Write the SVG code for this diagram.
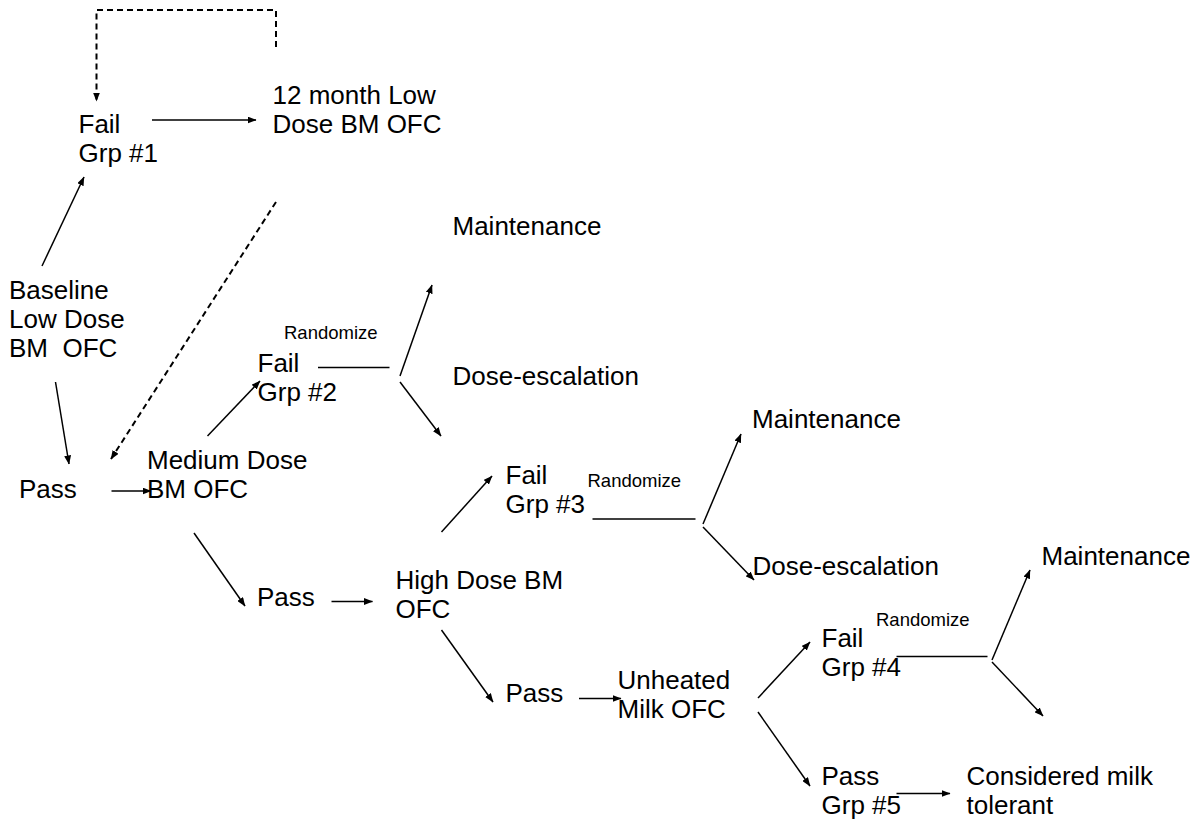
<svg xmlns="http://www.w3.org/2000/svg" width="1199" height="819" viewBox="0 0 1199 819">
<style>
text{font-family:"Liberation Sans",Arial,sans-serif;font-size:26px;fill:#000;white-space:pre}
text.small{font-size:18.5px}
.c{stroke:#000;stroke-width:1.5;fill:none}
.a{marker-end:url(#ah)}
.d{stroke-dasharray:6,4;stroke-width:2}
</style>
<defs>
<marker id="ah" markerWidth="9" markerHeight="7" refX="8.5" refY="3.5" orient="auto" markerUnits="userSpaceOnUse">
<path d="M0,0 L9,3.5 L0,7 z" fill="#000"/>
</marker>
</defs>
<rect width="1199" height="819" fill="#fff"/>
<g id="connectors">
<polyline class="c d a" points="276,47 276,10 96.5,10 96.5,101"/>
<line class="c a" x1="152" y1="120" x2="256" y2="120"/>
<line class="c a" x1="42" y1="266" x2="84" y2="177"/>
<line class="c d a" x1="276" y1="202" x2="111" y2="459"/>
<line class="c a" x1="55.5" y1="382" x2="69" y2="464"/>
<line class="c a" x1="111.5" y1="491" x2="151" y2="491"/>
<line class="c a" x1="207.5" y1="436" x2="260" y2="381"/>
<line class="c" x1="318" y1="367.5" x2="389.5" y2="367.5"/>
<line class="c a" x1="400" y1="376" x2="432" y2="285"/>
<line class="c a" x1="400" y1="382" x2="441" y2="436"/>
<line class="c a" x1="194" y1="533" x2="245" y2="606"/>
<line class="c a" x1="331.5" y1="601.5" x2="372.5" y2="601.5"/>
<line class="c a" x1="441.5" y1="532" x2="492" y2="476"/>
<line class="c" x1="592.5" y1="519" x2="695.5" y2="519"/>
<line class="c a" x1="703" y1="524" x2="741" y2="434"/>
<line class="c a" x1="703" y1="527" x2="754" y2="580"/>
<line class="c a" x1="441.5" y1="630" x2="493" y2="702"/>
<line class="c a" x1="579" y1="698.5" x2="621" y2="698.5"/>
<line class="c a" x1="758" y1="698" x2="810" y2="642"/>
<line class="c" x1="896.5" y1="656.5" x2="987.5" y2="656.5"/>
<line class="c a" x1="992" y1="660" x2="1030" y2="570"/>
<line class="c a" x1="992" y1="662" x2="1043" y2="716"/>
<line class="c a" x1="758" y1="712" x2="810" y2="786"/>
<line class="c a" x1="896.5" y1="793.5" x2="950" y2="793.5"/>
</g>
<g id="fail1"><text x="78.5" y="133">Fail</text><text x="78.5" y="162">Grp #1</text></g>
<g id="month12"><text x="272.5" y="104">12 month Low</text><text x="272.5" y="133">Dose BM OFC</text></g>
<g id="baseline"><text x="9" y="299">Baseline</text><text x="9" y="328">Low Dose</text><text x="9" y="357" xml:space="preserve">BM  OFC</text></g>
<g id="pass1"><text x="19" y="497.5">Pass</text></g>
<g id="medium"><text x="147" y="468.5">Medium Dose</text><text x="147" y="497.5">BM OFC</text></g>
<g id="fail2"><text class="small" x="284" y="339">Randomize</text><text x="257.5" y="372">Fail</text><text x="257.5" y="401">Grp #2</text></g>
<g id="maint1"><text x="452.5" y="235">Maintenance</text></g>
<g id="dose1"><text x="452.5" y="385">Dose-escalation</text></g>
<g id="pass2"><text x="257" y="606">Pass</text></g>
<g id="high"><text x="395.5" y="589">High Dose BM</text><text x="395.5" y="617.5">OFC</text></g>
<g id="fail3"><text x="505.5" y="483.5">Fail</text><text x="505.5" y="512.5">Grp #3</text><text class="small" x="587.5" y="487">Randomize</text></g>
<g id="maint2"><text x="752" y="428">Maintenance</text></g>
<g id="dose2"><text x="752.5" y="575">Dose-escalation</text></g>
<g id="pass3"><text x="505.5" y="702">Pass</text></g>
<g id="unheated"><text x="617.5" y="689">Unheated</text><text x="617.5" y="717.5">Milk OFC</text></g>
<g id="fail4"><text class="small" x="876" y="626">Randomize</text><text x="821.5" y="647">Fail</text><text x="821.5" y="676">Grp #4</text></g>
<g id="maint3"><text x="1041.5" y="565">Maintenance</text></g>
<g id="pass5"><text x="821.5" y="785">Pass</text><text x="821.5" y="813.5">Grp #5</text></g>
<g id="tolerant"><text x="966.5" y="785">Considered milk</text><text x="966.5" y="813.5">tolerant</text></g>
</svg>
